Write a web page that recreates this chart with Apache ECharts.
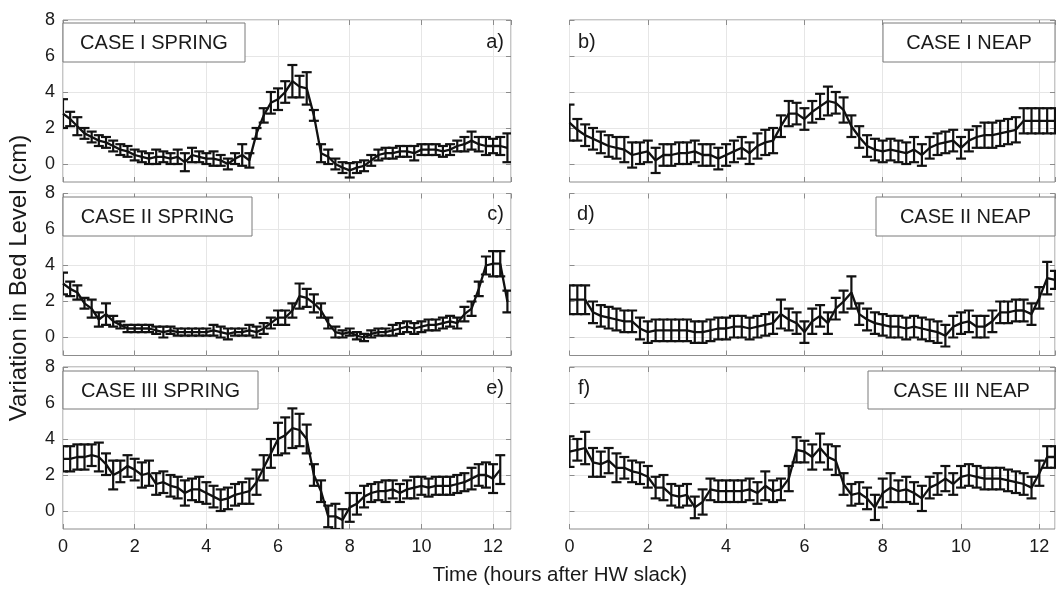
<!DOCTYPE html>
<html>
<head>
<meta charset="utf-8">
<script src="https://cdn.jsdelivr.net/npm/echarts@6/dist/echarts.min.js"></script>
<style>html,body{margin:0;padding:0;background:#fff}#chart{width:1057px;height:590px}</style>
</head>
<body>
<div id="chart"></div>
<script>
// ---- data (hours after HW slack) ----
const hours = [0,0.2,0.4,0.6,0.8,1,1.2,1.4,1.6,1.8,2,2.2,2.4,2.6,2.8,3,3.2,3.4,3.6,3.8,4,4.2,4.4,4.6,4.8,5,5.2,5.4,5.6,5.8,6,6.2,6.4,6.6,6.8,7,7.2,7.4,7.6,7.8,8,8.2,8.4,8.6,8.8,9,9.2,9.4,9.6,9.8,10,10.2,10.4,10.6,10.8,11,11.2,11.4,11.6,11.8,12,12.2,12.4];

const caseISpring    = [2.8,2.5,2.1,1.7,1.5,1.3,1.2,1.0,0.8,0.7,0.5,0.4,0.3,0.4,0.4,0.3,0.4,0.1,0.5,0.4,0.3,0.3,0.2,0.0,0.3,0.5,0.2,1.7,2.7,3.4,3.6,4.0,4.6,4.3,4.2,2.7,0.6,0.4,0.0,-0.2,-0.35,-0.2,-0.1,0.2,0.5,0.6,0.6,0.7,0.7,0.6,0.8,0.8,0.8,0.7,0.8,1.0,1.1,1.3,1.1,1.0,1.0,1.0,0.9];
const caseISpringErr = [0.8,0.4,0.5,0.3,0.3,0.3,0.3,0.3,0.3,0.3,0.3,0.3,0.3,0.4,0.3,0.3,0.4,0.5,0.4,0.3,0.3,0.4,0.3,0.3,0.3,0.6,0.4,0.3,0.4,0.6,0.6,0.6,0.9,0.6,0.9,0.3,0.5,0.4,0.3,0.3,0.4,0.3,0.3,0.3,0.3,0.3,0.3,0.3,0.3,0.4,0.3,0.3,0.3,0.3,0.3,0.3,0.4,0.5,0.4,0.5,0.4,0.5,0.8];

const caseINeap    = [2.3,1.9,1.6,1.4,1.2,1.0,0.9,0.8,0.5,0.6,0.7,0.2,0.5,0.5,0.6,0.6,0.7,0.5,0.5,0.3,0.5,0.7,0.9,0.6,1.0,1.2,1.3,2.1,2.8,2.8,2.5,2.9,3.2,3.5,3.4,3.0,2.1,1.5,1.0,0.8,0.7,0.8,0.7,0.6,0.8,0.5,0.9,1.1,1.2,1.3,0.9,1.3,1.5,1.6,1.6,1.7,1.8,1.9,2.4,2.4,2.4,2.4,2.4];
const caseINeapErr = [1.0,0.6,0.6,0.6,0.6,0.6,0.6,0.7,0.7,0.6,0.6,0.7,0.6,0.6,0.6,0.6,0.6,0.6,0.6,0.6,0.6,0.6,0.6,0.6,0.7,0.7,0.7,0.6,0.7,0.6,0.6,0.6,0.7,0.8,0.6,0.7,0.6,0.6,0.6,0.6,0.6,0.6,0.6,0.6,0.7,0.6,0.6,0.6,0.6,0.6,0.6,0.6,0.6,0.7,0.7,0.7,0.7,0.7,0.7,0.7,0.7,0.7,0.7];

const caseIISpring    = [3.0,2.7,2.5,1.9,1.6,1.0,1.3,0.9,0.7,0.5,0.5,0.5,0.5,0.4,0.3,0.4,0.3,0.3,0.3,0.3,0.3,0.4,0.3,0.2,0.3,0.3,0.4,0.3,0.5,0.8,1.1,1.1,1.5,2.3,2.2,1.9,1.5,0.8,0.3,0.2,0.3,0.1,0.0,0.2,0.3,0.3,0.4,0.5,0.6,0.5,0.6,0.7,0.7,0.8,0.9,0.8,1.3,1.6,2.7,4.0,4.1,4.1,2.0];
const caseIISpringErr = [0.6,0.4,0.4,0.3,0.5,0.4,0.6,0.3,0.2,0.2,0.2,0.2,0.2,0.2,0.3,0.2,0.2,0.2,0.2,0.2,0.2,0.3,0.3,0.3,0.2,0.2,0.3,0.3,0.3,0.3,0.4,0.4,0.4,0.7,0.5,0.5,0.4,0.3,0.3,0.2,0.2,0.2,0.2,0.2,0.2,0.2,0.3,0.3,0.3,0.3,0.3,0.3,0.3,0.3,0.3,0.3,0.4,0.4,0.4,0.5,0.7,0.7,0.6];

const caseIINeap    = [2.1,2.1,2.1,1.4,1.2,1.1,1.0,0.9,0.9,0.5,0.3,0.4,0.4,0.4,0.4,0.4,0.3,0.3,0.4,0.5,0.5,0.6,0.6,0.5,0.6,0.7,0.8,1.3,1.0,0.8,0.3,0.9,1.2,0.8,1.6,2.0,2.5,1.3,1.0,0.8,0.7,0.6,0.6,0.5,0.6,0.5,0.4,0.3,0.1,0.6,0.8,0.9,0.6,0.6,0.9,1.4,1.4,1.5,1.5,1.3,2.2,3.3,3.2];
const caseIINeapErr = [0.8,0.8,0.8,0.6,0.6,0.6,0.6,0.6,0.6,0.6,0.6,0.6,0.6,0.6,0.6,0.6,0.6,0.6,0.6,0.6,0.6,0.6,0.6,0.6,0.6,0.6,0.6,0.8,0.6,0.6,0.6,0.7,0.6,0.6,0.6,0.6,0.9,0.6,0.6,0.6,0.6,0.6,0.6,0.6,0.6,0.6,0.6,0.6,0.6,0.6,0.6,0.6,0.6,0.6,0.6,0.6,0.6,0.6,0.6,0.6,0.6,0.9,0.5];

const caseIIISpring    = [2.9,2.9,3.0,3.0,3.1,3.0,2.6,2.0,2.2,2.5,2.3,2.0,2.1,1.5,1.6,1.4,1.3,1.0,1.2,1.2,1.0,0.8,0.6,0.7,0.9,1.0,1.1,1.6,2.4,3.2,4.0,4.2,4.6,4.5,4.0,2.0,1.1,-0.3,-0.3,-0.5,0.2,0.4,0.8,1.0,1.1,1.1,1.2,1.0,1.2,1.3,1.4,1.3,1.4,1.4,1.4,1.5,1.6,1.8,2.0,2.0,1.8,2.3,null];
const caseIIISpringErr = [0.7,0.7,0.7,0.7,0.6,0.8,0.6,0.8,0.6,0.6,0.6,0.7,0.7,0.6,0.6,0.6,0.6,0.7,0.6,0.7,0.6,0.6,0.6,0.6,0.6,0.6,0.7,0.7,0.7,0.8,0.9,1.0,1.1,0.9,0.8,0.6,0.6,0.6,0.7,0.6,0.8,0.6,0.6,0.5,0.5,0.6,0.5,0.5,0.5,0.6,0.5,0.5,0.5,0.5,0.5,0.5,0.5,0.6,0.6,0.7,0.8,0.8,null];

const caseIIINeap    = [3.3,3.4,3.5,2.7,2.6,2.8,2.4,2.4,2.2,2.1,1.9,1.3,1.3,0.9,0.8,0.9,0.2,0.5,1.2,1.1,1.1,1.1,1.1,1.2,1.0,1.4,1.1,1.2,1.8,3.4,3.3,3.0,3.5,3.0,2.8,1.5,0.9,1.0,0.7,0.2,1.0,1.3,1.1,1.2,1.0,0.7,1.3,1.5,1.8,1.5,1.9,2.0,1.9,1.8,1.8,1.8,1.7,1.6,1.5,1.3,2.1,3.0,3.0];
const caseIIINeapErr = [0.85,0.6,0.9,0.8,0.7,0.7,0.8,0.6,0.6,0.6,0.6,0.6,0.7,0.6,0.6,0.6,0.6,0.7,0.6,0.6,0.6,0.6,0.6,0.6,0.6,0.8,0.6,0.6,0.7,0.7,0.6,0.7,0.8,0.7,0.8,0.6,0.6,0.6,0.6,0.7,0.8,0.8,0.6,0.7,0.6,0.7,0.6,0.6,0.7,0.6,0.6,0.6,0.6,0.6,0.6,0.6,0.6,0.6,0.6,0.6,0.7,0.6,0.6];

const yTickValues = [0,2,4,6,8];
const caseNames = ['CASE I SPRING','CASE I NEAP','CASE II SPRING','CASE II NEAP','CASE III SPRING','CASE III NEAP'];
const panelTags = ['a)','b)','c)','d)','e)','f)'];
const xTitle = 'Time (hours after HW slack)';
const yTitle = 'Variation in Bed Level (cm)';

// ---- layout ----
const FONT = '"Liberation Sans", Arial, Helvetica, sans-serif';
const rowTop = [20, 193.5, 367];
const rowH = 162;
const colLayout = [{left: 63, width: 448, max: 12.5}, {left: 569.5, width: 485.5, max: 12.4}];
const boxes = [
  {x: 63, y: 23, w: 182, h: 39},
  {x: 883, y: 23, w: 172, h: 39},
  {x: 63, y: 197, w: 189, h: 39},
  {x: 876, y: 197, w: 179, h: 39},
  {x: 63, y: 371, w: 195, h: 38},
  {x: 868, y: 371, w: 187, h: 38}
];
const tagPos = [
  {x: 504, y: 42, align: 'right'}, {x: 578, y: 42, align: 'left'},
  {x: 504, y: 214, align: 'right'}, {x: 577, y: 214, align: 'left'},
  {x: 504, y: 388, align: 'right'}, {x: 578, y: 388, align: 'left'}
];

const panelVals = [caseISpring, caseINeap, caseIISpring, caseIINeap, caseIIISpring, caseIIINeap];
const panelErrs = [caseISpringErr, caseINeapErr, caseIISpringErr, caseIINeapErr, caseIIISpringErr, caseIIINeapErr];

function errRender(params, api) {
  const x = api.value(0), y = api.value(1), e = api.value(2);
  const hi = api.coord([x, y + e]);
  const lo = api.coord([x, y - e]);
  const w = 5;
  const st = {stroke: '#111', lineWidth: 2.2};
  return {type: 'group', children: [
    {type: 'line', shape: {x1: hi[0], y1: hi[1], x2: lo[0], y2: lo[1]}, style: st},
    {type: 'line', shape: {x1: hi[0] - w, y1: hi[1], x2: hi[0] + w, y2: hi[1]}, style: st},
    {type: 'line', shape: {x1: lo[0] - w, y1: lo[1], x2: lo[0] + w, y2: lo[1]}, style: st}
  ]};
}

function tickStyle(extra) {
  return Object.assign({show: true, inside: true, length: 5, lineStyle: {color: '#8c8c8c', width: 1}}, extra || {});
}

const grids = [], xAxes = [], yAxes = [], series = [], graphics = [];
for (let k = 0; k < 6; k++) {
  const row = Math.floor(k / 2), col = k % 2;
  const c = colLayout[col];
  grids.push({left: c.left, top: rowTop[row], width: c.width, height: rowH, show: true,
    borderColor: '#8c8c8c', borderWidth: 1, backgroundColor: '#fff', containLabel: false});
  xAxes.push({gridIndex: k, type: 'value', min: 0, max: c.max, interval: 2, position: 'bottom',
    axisLine: {show: false, onZero: false}, axisTick: tickStyle(),
    axisLabel: {show: row === 2, showMaxLabel: false, fontSize: 18, color: '#1a1a1a', margin: 9, fontFamily: FONT},
    splitLine: {show: true, lineStyle: {color: '#e6e6e6', width: 1}}});
  xAxes.push({gridIndex: k, type: 'value', min: 0, max: c.max, interval: 2, position: 'top',
    axisLine: {show: false, onZero: false}, axisTick: tickStyle(), axisLabel: {show: false}, splitLine: {show: false}});
  yAxes.push({gridIndex: k, type: 'value', min: -1, max: 8, position: 'left',
    axisLine: {show: false, onZero: false}, axisTick: tickStyle({customValues: yTickValues}),
    axisLabel: {show: col === 0, customValues: yTickValues, fontSize: 18, color: '#1a1a1a', margin: 8, fontFamily: FONT},
    splitLine: {show: true, lineStyle: {color: '#e6e6e6', width: 1}}});
  yAxes.push({gridIndex: k, type: 'value', min: -1, max: 8, position: 'right',
    axisLine: {show: false, onZero: false}, axisTick: tickStyle({customValues: yTickValues}),
    axisLabel: {show: false}, splitLine: {show: false}});

  const vals = panelVals[k], errs = panelErrs[k];
  const lineData = [], errData = [];
  for (let i = 0; i < hours.length; i++) {
    if (vals[i] === null || vals[i] === undefined) continue;
    lineData.push([hours[i], vals[i]]);
    errData.push([hours[i], vals[i], errs[i]]);
  }
  series.push({type: 'line', xAxisIndex: 2 * k, yAxisIndex: 2 * k, data: lineData,
    symbol: 'none', showSymbol: false, lineStyle: {color: '#111', width: 2.3}, z: 3, animation: false, silent: true});
  series.push({type: 'custom', xAxisIndex: 2 * k, yAxisIndex: 2 * k, data: errData,
    renderItem: errRender, encode: {x: 0, y: 1}, clip: true, z: 4, animation: false, silent: true});

  const b = boxes[k];
  graphics.push({type: 'rect', shape: {x: b.x, y: b.y, width: b.w, height: b.h},
    style: {fill: '#fff', stroke: '#7a7a7a', lineWidth: 1}, z: 100});
  graphics.push({type: 'text', x: b.x + b.w / 2, y: b.y + b.h / 2 + 1, z: 101,
    style: {text: caseNames[k], font: '20px ' + FONT, fill: '#1a1a1a', align: 'center', verticalAlign: 'middle', textAlign: 'center', textVerticalAlign: 'middle'}});
  const t = tagPos[k];
  graphics.push({type: 'text', x: t.x, y: t.y, z: 101,
    style: {text: panelTags[k], font: '20px ' + FONT, fill: '#1a1a1a', align: t.align, verticalAlign: 'middle', textAlign: t.align, textVerticalAlign: 'middle'}});
}
graphics.push({type: 'text', x: 560, y: 575, z: 101,
  style: {text: xTitle, font: '20.5px ' + FONT, fill: '#1a1a1a', align: 'center', verticalAlign: 'middle', textAlign: 'center', textVerticalAlign: 'middle'}});
graphics.push({type: 'text', x: 19, y: 278, rotation: Math.PI / 2, z: 101,
  style: {text: yTitle, font: '24px ' + FONT, fill: '#1a1a1a', align: 'center', verticalAlign: 'middle', textAlign: 'center', textVerticalAlign: 'middle'}});

const chart = echarts.init(document.getElementById('chart'), null, {renderer: 'canvas'});
chart.setOption({
  backgroundColor: '#fff',
  animation: false,
  grid: grids, xAxis: xAxes, yAxis: yAxes, series: series, graphic: graphics
});
</script>
</body>
</html>
